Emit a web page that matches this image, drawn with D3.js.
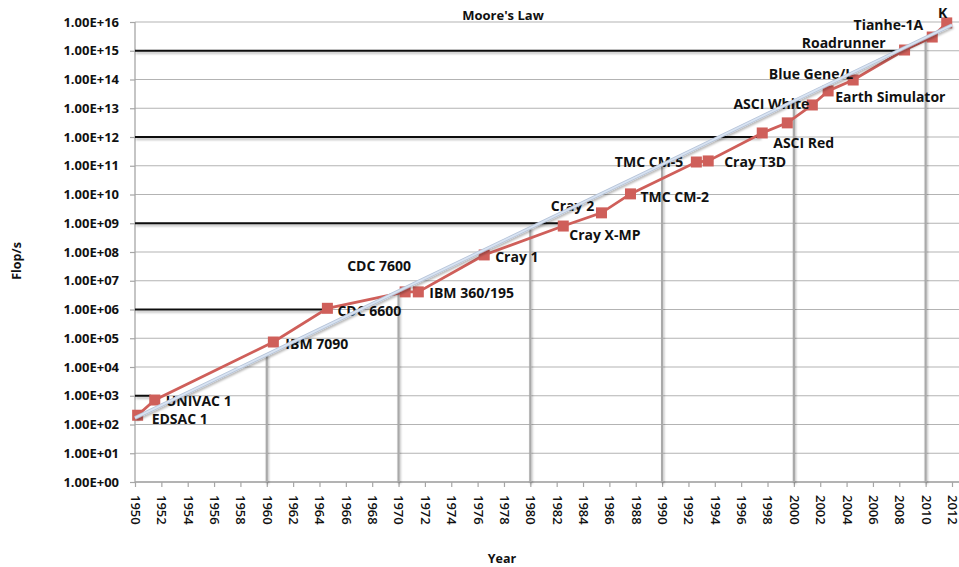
<!DOCTYPE html>
<html>
<head>
<meta charset="utf-8">
<script src="https://cdn.jsdelivr.net/npm/d3@7"></script>
<style>
  html, body { margin: 0; padding: 0; background: #fff; }
  svg { display: block; }
  text { font-family: "Open Sans", Lato, sans-serif; fill: #111; }
</style>
</head>
<body>
<svg id="chart" width="959" height="567"></svg>
<script>
// ---------------- DATA ----------------
const machineNames = ["EDSAC 1","UNIVAC 1","IBM 7090","CDC 6600","CDC 7600","IBM 360/195","Cray 1","Cray X-MP","Cray 2","TMC CM-2","TMC CM-5","Cray T3D","ASCI Red","","ASCI White","Earth Simulator","Blue Gene/L","Roadrunner","Tianhe-1A","K"];
const machineYears = [1950.2,1951.5,1960.5,1964.6,1970.5,1971.5,1976.5,1982.5,1985.4,1987.6,1992.6,1993.5,1997.6,1999.5,2001.4,2002.6,2004.5,2008.4,2010.5,2011.6];
const machineFlops = [2.1e2,7.1e2,7.4e4,1.1e6,4.1e6,4.1e6,7.9e7,8.0e8,2.3e9,1.05e10,1.35e11,1.47e11,1.38e12,3.1e12,1.3e13,4.0e13,9.6e13,1.06e15,3.0e15,9.3e15];

const mooreYears = [1950,1960,1970,1980,1990,2000,2010,2012];
const mooreFlops = [1.7e2,2.7e4,4.4e6,7.0e8,1.1e11,1.8e13,2.9e15,7.9e15];

const milestoneLevels = [1e3,1e6,1e9,1e12,1e15];
const milestoneYears = [1951.2,1964.4,1982.3,1997.45,2007.85];

const yTickValues = [1e0,1e1,1e2,1e3,1e4,1e5,1e6,1e7,1e8,1e9,1e10,1e11,1e12,1e13,1e14,1e15,1e16];
const xTickValues = d3.range(1950, 2013, 2);

const chartTitle = "Moore's Law";
const xTitle = "Year";
const yTitle = "Flop/s";

// label placement (relative to each point)
const labelPlace = [
  [14,4,"start"],[11,1,"start"],[12,2,"start"],[10,3,"start"],[-26,-26,"middle"],
  [11,1,"start"],[11,2,"start"],[6,9,"start"],[-29,-7,"middle"],[10,3,"start"],
  [-13,0,"end"],[16,1,"start"],[11,10,"start"],[0,0,"start"],[-3,-1,"end"],
  [7,6,"start"],[0,-6,"end"],[-19,-7,"end"],[-9,-12,"end"],[-4,-10,"middle"]
];

// ---------------- SCALES ----------------
const svg = d3.select("#chart");
const mLeft = 135, mRight = 952, mTop = 22, mBottom = 482;
const x = d3.scaleLinear().domain([1950, 2012]).range([mLeft, mRight]);
const y = d3.scaleLog().domain([1, 1e16]).range([mBottom, mTop]);

const defs = svg.append("defs");
const f = defs.append("filter").attr("id","shadow").attr("x","-10%").attr("y","-50%").attr("width","120%").attr("height","200%");
f.append("feDropShadow").attr("dx",1).attr("dy",2).attr("stdDeviation",1).attr("flood-color","#000").attr("flood-opacity",0.28);

// gridlines
svg.append("g").selectAll("line").data(yTickValues).join("line")
  .attr("x1", mLeft).attr("x2", 959)
  .attr("y1", d => y(d)).attr("y2", d => y(d))
  .attr("stroke", "#b3b3b3").attr("stroke-width", 1.2);

// axes
const yAxis = d3.axisLeft(y).tickValues(yTickValues).tickSize(5).tickPadding(11)
  .tickFormat(d => "1.00E+" + String(Math.round(Math.log10(d))).padStart(2, "0"));
const gy = svg.append("g").attr("transform", `translate(${mLeft},0)`).call(yAxis);
gy.select(".domain").attr("stroke", "#a6a6a6").attr("stroke-width", 1.3).attr("d", `M0,${mBottom}V${mTop}`);
gy.selectAll(".tick line").attr("stroke", "#a6a6a6").attr("stroke-width", 1.2);
gy.selectAll(".tick text").attr("font-size", 13).attr("font-weight", 700)
  .attr("font-family", "'Open Sans', sans-serif").attr("fill", "#111");

const xAxis = d3.axisBottom(x).tickValues(xTickValues).tickSize(5).tickFormat(d => String(d));
const gx = svg.append("g").attr("transform", `translate(0,${mBottom})`).call(xAxis);
gx.select(".domain").attr("stroke", "#a6a6a6").attr("stroke-width", 1.3).attr("d", `M${mLeft},0H959`);
gx.selectAll(".tick line").attr("stroke", "#a6a6a6").attr("stroke-width", 1.2);
gx.selectAll(".tick text")
  .attr("font-size", 13).attr("font-weight", 600).attr("font-family", "'Open Sans', sans-serif").attr("fill", "#111")
  .attr("text-anchor", "start").attr("dy", "0.35em")
  .attr("transform", "translate(0,13) rotate(90)").attr("x", 0).attr("y", 0);

// drop lines from Moore's law trend (decade points)
const dropIdx = d3.range(1, mooreYears.length - 1);
svg.append("g").attr("filter","url(#shadow)").selectAll("line").data(dropIdx).join("line")
  .attr("x1", i => x(mooreYears[i])).attr("x2", i => x(mooreYears[i]))
  .attr("y1", mBottom).attr("y2", i => y(mooreFlops[i]))
  .attr("stroke", "#a9a9a9").attr("stroke-width", 2.2);

// milestone lines
svg.append("g").attr("filter","url(#shadow)").selectAll("line").data(milestoneLevels).join("line")
  .attr("x1", mLeft).attr("x2", (d, i) => x(milestoneYears[i]))
  .attr("y1", d => y(d)).attr("y2", d => y(d))
  .attr("stroke", "#111").attr("stroke-width", 2);

// machine series
const pts = machineYears.map((yr, i) => ({yr, v: machineFlops[i], name: machineNames[i], p: labelPlace[i]}));
svg.append("path").datum(pts)
  .attr("d", d3.line().x(d => x(d.yr)).y(d => y(d.v)))
  .attr("fill", "none").attr("stroke", "#cf5f5a").attr("stroke-width", 2.8);
svg.append("g").selectAll("rect").data(pts).join("rect")
  .attr("x", d => x(d.yr) - 5.5).attr("y", d => y(d.v) - 5.5)
  .attr("width", 11).attr("height", 11).attr("fill", "#cf5f5a");

// labels
svg.append("g").selectAll("text").data(pts.filter(d => d.name)).join("text")
  .attr("x", d => x(d.yr) + d.p[0]).attr("y", d => y(d.v) + d.p[1])
  .attr("dy", "0.35em").attr("text-anchor", d => d.p[2])
  .attr("font-size", 14).attr("font-weight", 700)
  .text(d => d.name);

// Moore's law trend line
const moorePts = mooreYears.map((yr, i) => ({yr, v: mooreFlops[i]}));
const mooreLine = d3.line().x(d => x(d.yr)).y(d => y(d.v));
svg.append("path").datum(moorePts).attr("d", mooreLine)
  .attr("fill", "none").attr("stroke", "#b5c3d8").attr("stroke-width", 3.4).attr("filter","url(#shadow)");
svg.append("path").datum(moorePts).attr("d", mooreLine)
  .attr("fill", "none").attr("stroke", "#d8e3f2").attr("stroke-width", 1.8);

// titles
svg.append("text").attr("x", 503).attr("y", 20).attr("text-anchor", "middle")
  .attr("font-size", 13).attr("font-weight", 700).text(chartTitle);
svg.append("text").attr("x", 502).attr("y", 563).attr("text-anchor", "middle")
  .attr("font-size", 12.5).attr("font-weight", 700).text(xTitle);
svg.append("text").attr("transform", "translate(21,261) rotate(-90)").attr("text-anchor", "middle")
  .attr("font-size", 12.5).attr("font-weight", 700).text(yTitle);
</script>
</body>
</html>
